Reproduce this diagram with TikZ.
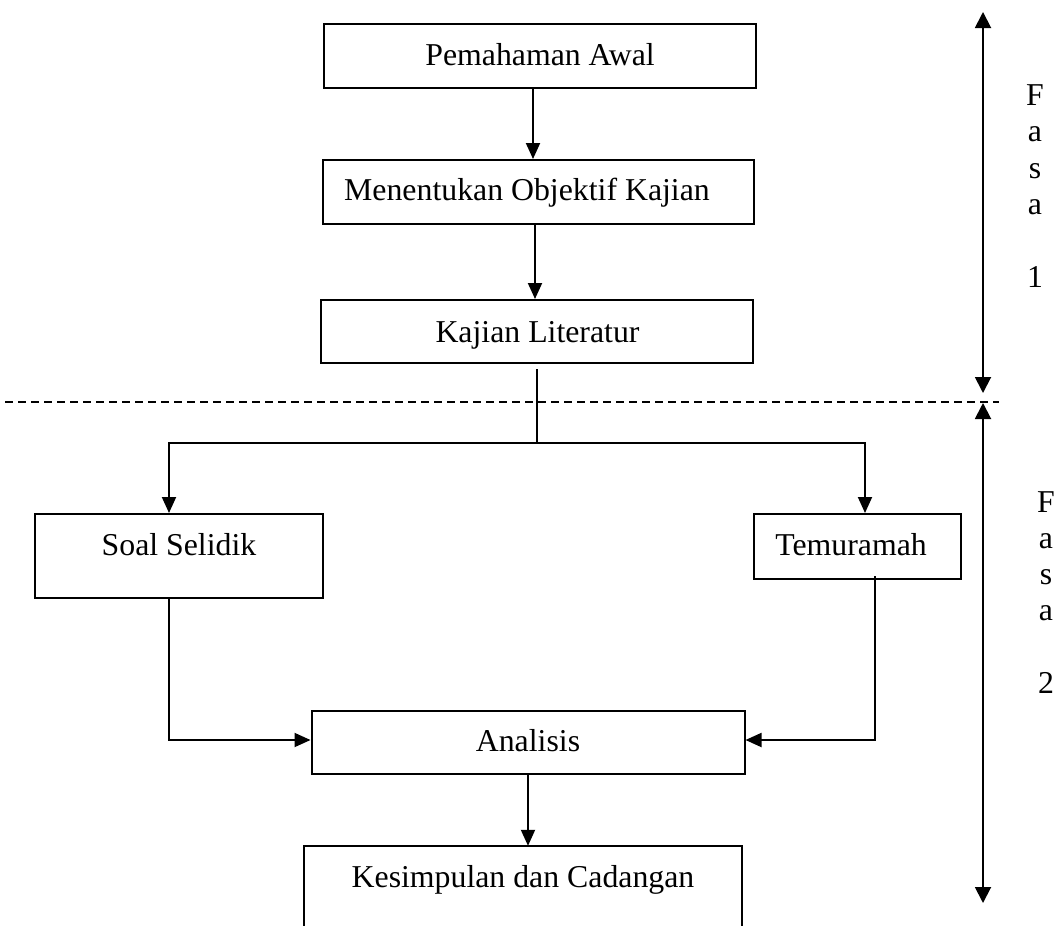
\documentclass[tikz,border=0pt]{standalone}
\usepackage{fontspec}
\setmainfont{Liberation Serif}
\usetikzlibrary{arrows.meta}
\begin{document}
\begin{tikzpicture}[x=1pt,y=-1pt,
  font=\fontsize{31.8}{38}\selectfont,
  boxx/.style={draw, line width=2pt, inner sep=0pt},
  ghost/.style={inner sep=0pt},
  lbl/.style={anchor=base, inner sep=0pt},
  conn/.style={line width=1.9pt},
  arr/.style={line width=1.9pt, -{Triangle[length=16pt,width=14pt]}},
  darr/.style={line width=1.9pt, {Triangle[length=16pt,width=16pt]}-{Triangle[length=16pt,width=16pt]}},
  sep/.style={line width=1.5pt, dash pattern=on 8pt off 5pt}]
\useasboundingbox (0,0) rectangle (1060,926);

% boxes
\node[boxx, minimum width=432pt, minimum height=64pt] (b1) at (540,56) {};
\node[boxx, minimum width=431pt, minimum height=64pt] (b2) at (538.5,192) {};
\node[boxx, minimum width=432pt, minimum height=63pt] (b3) at (537,331.5) {};
\node[boxx, minimum width=288pt, minimum height=84pt] (b4) at (179,556) {};
\node[boxx, minimum width=207pt, minimum height=65pt] (b5) at (857.5,546.5) {};
\node[boxx, minimum width=433pt, minimum height=63pt] (b6) at (528,742.5) {};
\node[ghost, minimum width=438pt, minimum height=86pt] (b7) at (523,889) {};
\draw[line width=2pt] (b7.south west) |- (b7.north east) -- (b7.south east);

% texts
\node[lbl] (t1) at (540,65) {Pemahaman Awal};
\node[lbl] (t2) at (527,200) {Menentukan Objektif Kajian};
\node[lbl] (t3) at (537.5,342) {Kajian Literatur};
\node[lbl] (t4) at (179,555) {Soal Selidik};
\node[lbl] (t5) at (851,555) {Temuramah};
\node[lbl] (t6) at (528,751) {Analisis};
\node[lbl] (t7) at (523,887) {Kesimpulan dan Cadangan};

% connectors
\draw[arr] ([xshift=-7pt]b1.south) -- ([xshift=-5.5pt]b2.north);
\draw[arr] ([xshift=-3.5pt]b2.south) -- ([xshift=-2pt]b3.north);
\coordinate (split) at (537,443);
\draw[conn] ([yshift=-5pt]b3.south) -- (split);
\draw[arr] (split) -| ([xshift=-10pt]b4.north);
\draw[arr] (split) -| ([xshift=7.5pt]b5.north);
\draw[arr] ([xshift=-10pt]b4.south) |- ([yshift=2.5pt]b6.west);
\draw[arr] ([xshift=17.5pt,yshift=4pt]b5.south) |- ([yshift=2.5pt]b6.east);
\draw[arr] ([yshift=2pt]b6.south) -- ([xshift=5pt]b7.north);

% phase separator and phase arrows
\coordinate (dl) at (5,402);
\coordinate (dr) at (999,402);
\draw[sep] (dl) -- (dr);
\coordinate (p1t) at (983,12);
\coordinate (p1b) at (983,393);
\coordinate (p2t) at (983,403);
\coordinate (p2b) at (983,903);
\draw[darr] (p1t) -- (p1b);
\draw[darr] (p2t) -- (p2b);

% phase labels
\foreach \ch/\yy [count=\i] in {F/105, a/141.5, s/178, a/214.5, 1/287.5}
  \node[lbl] (fa\i) at (1035,\yy) {\ch};
\foreach \ch/\yy [count=\i] in {F/512, a/548, s/584, a/620, 2/693}
  \node[lbl] (fb\i) at (1046,\yy) {\ch};
\end{tikzpicture}
\end{document}
